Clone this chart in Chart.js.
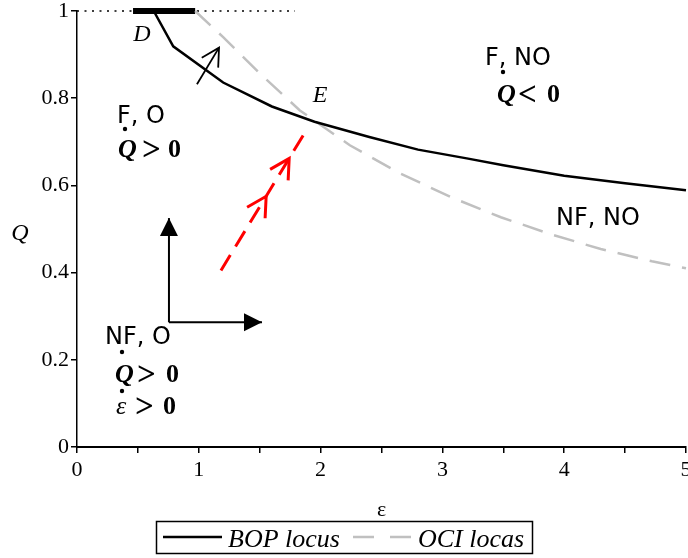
<!DOCTYPE html>
<html>
<head>
<meta charset="utf-8">
<script src="https://cdn.jsdelivr.net/npm/chart.js@4.4.1/dist/chart.umd.min.js"></script>
<style>
  html, body { margin: 0; padding: 0; background: #fff; }
</style>
</head>
<body>
<canvas id="chart" width="688" height="558"></canvas>
<script>
// ------------------ Data ------------------

// BOP locus (solid black)
const bopEps = [0.63, 0.79, 1.2, 1.6, 1.95, 2.4, 2.8, 3.2, 3.5, 4.0, 4.5, 5.0];
const bopQ   = [1.0, 0.919, 0.836, 0.781, 0.746, 0.711, 0.682, 0.662, 0.646, 0.622, 0.605, 0.589];

// OCI locus (grey dashed)
const ociEps = [0.97, 1.2, 1.5, 1.83, 2.24, 2.65, 3.07, 3.48, 3.89, 4.3, 4.72, 5.0];
const ociQ   = [1.0, 0.94, 0.857, 0.772, 0.692, 0.628, 0.573, 0.527, 0.488, 0.454, 0.426, 0.41];

// segment D on Q = 1, and the dotted Q = 1 guide
const segD   = [[0.46, 1], [0.97, 1]];
const guide1 = [[0, 1], [1.79, 1]];

// red dashed path towards E, with its two open arrow tips (on the path)
const redPath = [[1.182, 0.405], [1.888, 0.729]];
const redTips = [[1.553, 0.575], [1.742, 0.662]];

// small black arrow, and the two axes-like arrows
const smallArrow = [[0.985, 0.832], [1.166, 0.916]];
const upArrow    = [[0.755, 0.286], [0.755, 0.525]];
const rightArrow = [[0.755, 0.286], [1.519, 0.286]];

const xTicks = [0, 1, 2, 3, 4, 5];
const yTicks = [0, 0.2, 0.4, 0.6, 0.8, 1];

const pts = (xs, ys) => xs.map((x, i) => ({ x, y: ys[i] }));
const pairs = arr => arr.map(([x, y]) => ({ x, y }));

// ------------------ Drawing helpers ------------------

function openHead(ctx, tx, ty, fx, fy, len, ang) {
  const a = Math.atan2(ty - fy, tx - fx);
  ctx.beginPath();
  ctx.moveTo(tx - len * Math.cos(a - ang), ty - len * Math.sin(a - ang));
  ctx.lineTo(tx, ty);
  ctx.lineTo(tx - len * Math.cos(a + ang), ty - len * Math.sin(a + ang));
  ctx.stroke();
}

function filledHead(ctx, tx, ty, fx, fy, len, half) {
  const a = Math.atan2(ty - fy, tx - fx);
  const bx = tx - len * Math.cos(a), by = ty - len * Math.sin(a);
  ctx.beginPath();
  ctx.moveTo(tx, ty);
  ctx.lineTo(bx + half * Math.sin(a), by - half * Math.cos(a));
  ctx.lineTo(bx - half * Math.sin(a), by + half * Math.cos(a));
  ctx.closePath();
  ctx.fill();
}

function txt(ctx, s, x, y, font, align = 'left', base = 'alphabetic') {
  ctx.font = font;
  ctx.textAlign = align;
  ctx.textBaseline = base;
  ctx.fillText(s, x, y);
}

function dot(ctx, x, y) {
  ctx.beginPath();
  ctx.arc(x, y, 2.2, 0, Math.PI * 2);
  ctx.fill();
}

const SANS = '"DejaVu Sans", sans-serif';
const SERIF = '"Liberation Serif", "Times New Roman", serif';
const MATH = 'bold 26px ' + SERIF;
const MATHQ = 'italic bold 26px ' + SERIF;
const REL = 'bold 33px ' + SERIF;

const extras = {
  id: 'extras',
  afterDatasetsDraw(chart) {
    const ctx = chart.ctx;
    const xs = chart.scales.x, ys = chart.scales.y;
    const P = ([x, y]) => [xs.getPixelForValue(x), ys.getPixelForValue(y)];
    ctx.save();

    // red open arrow tips
    ctx.strokeStyle = '#ff0000';
    ctx.lineWidth = 3;
    const [rx0, ry0] = P(redPath[0]);
    redTips.forEach(t => {
      const [tx, ty] = P(t);
      openHead(ctx, tx, ty, rx0, ry0, 22, 0.5);
    });

    // small black arrow tip
    ctx.strokeStyle = '#000';
    ctx.lineWidth = 1.8;
    const [sx0, sy0] = P(smallArrow[0]);
    const [sx1, sy1] = P(smallArrow[1]);
    openHead(ctx, sx1, sy1, sx0, sy0, 20, 0.5);

    // filled heads
    ctx.fillStyle = '#000';
    let [ax, ay] = P(upArrow[0]);
    let [bx, by] = P(upArrow[1]);
    filledHead(ctx, bx, by, ax, ay, 18, 9);
    [ax, ay] = P(rightArrow[0]);
    [bx, by] = P(rightArrow[1]);
    filledHead(ctx, bx, by, ax, ay, 18, 9);

    // point labels
    ctx.fillStyle = '#000';
    txt(ctx, 'D', 142, 35, 'italic 24px ' + SERIF, 'center', 'middle');
    txt(ctx, 'E', 320, 96, 'italic 24px ' + SERIF, 'center', 'middle');

    // region labels
    const reg = '24px ' + SANS;
    txt(ctx, 'F, O', 117, 123, reg);
    dot(ctx, 125, 129);
    txt(ctx, 'Q', 118, 157, MATHQ);
    txt(ctx, '>', 142, 160, REL);
    txt(ctx, '0', 168, 157, MATH);

    txt(ctx, 'F, NO', 485, 65, reg);
    dot(ctx, 503, 72);
    txt(ctx, 'Q', 497, 102, MATHQ);
    txt(ctx, '<', 518, 105, REL);
    txt(ctx, '0', 547, 102, MATH);

    txt(ctx, 'NF, NO', 556, 225, reg);

    txt(ctx, 'NF, O', 105, 344, reg);
    dot(ctx, 122, 352);
    txt(ctx, 'Q', 115, 382, MATHQ);
    txt(ctx, '>', 137, 385, REL);
    txt(ctx, '0', 166, 382, MATH);
    dot(ctx, 122, 391);
    txt(ctx, 'ε', 116, 414, 'italic 26px ' + SERIF);
    txt(ctx, '>', 135, 417, REL);
    txt(ctx, '0', 163, 414, MATH);

    // axis titles
    txt(ctx, 'Q', 20, 234, 'italic 24px ' + SERIF, 'center', 'middle');
    txt(ctx, 'ε', (xs.left + xs.right) / 2, 510, '22px ' + SERIF, 'center', 'middle');

    // legend
    ctx.strokeStyle = '#000';
    ctx.lineWidth = 1.5;
    ctx.strokeRect(156.5, 521.5, 376, 32);
    ctx.lineWidth = 2.5;
    ctx.beginPath(); ctx.moveTo(163, 537); ctx.lineTo(222, 537); ctx.stroke();
    txt(ctx, 'BOP locus', 228, 547, 'italic 26px ' + SERIF);
    ctx.strokeStyle = '#c0c0c0';
    ctx.setLineDash([21, 16]);
    ctx.beginPath(); ctx.moveTo(353, 537); ctx.lineTo(413, 537); ctx.stroke();
    ctx.setLineDash([]);
    txt(ctx, 'OCI locas', 418, 547, 'italic 26px ' + SERIF);

    ctx.restore();
  }
};

// ------------------ Chart ------------------

const ctx = document.getElementById('chart').getContext('2d');
new Chart(ctx, {
  type: 'line',
  data: {
    datasets: [
      { label: 'BOP locus', data: pts(bopEps, bopQ), borderColor: '#000', borderWidth: 2.5 },
      { label: 'OCI locas', data: pts(ociEps, ociQ), borderColor: '#c0c0c0', borderWidth: 2.5, borderDash: [21, 12] },
      { label: 'D', data: pairs(segD), borderColor: '#000', borderWidth: 6 },
      { label: 'Q=1', data: pairs(guide1), borderColor: '#000', borderWidth: 1.5, borderDash: [2, 5.5] },
      { label: 'path', data: pairs(redPath), borderColor: '#ff0000', borderWidth: 3, borderDash: [18, 10] },
      { label: 'arrow', data: pairs(smallArrow), borderColor: '#000', borderWidth: 1.8 },
      { label: 'up', data: pairs(upArrow), borderColor: '#000', borderWidth: 2 },
      { label: 'right', data: pairs(rightArrow), borderColor: '#000', borderWidth: 2 }
    ]
  },
  options: {
    responsive: false,
    animation: false,
    clip: false,
    elements: { point: { radius: 0 }, line: { tension: 0, fill: false } },
    layout: { padding: { left: 0, right: 2, top: 11, bottom: 0 } },
    plugins: { legend: { display: false }, tooltip: { enabled: false } },
    scales: {
      x: {
        type: 'linear', min: 0, max: 5,
        afterFit: s => { s.height = 111; s.paddingLeft = 0; s.paddingRight = 0; },
        border: { color: '#000', width: 2 },
        grid: { drawOnChartArea: false, color: '#000', lineWidth: 1.5, tickLength: 6 },
        ticks: {
          stepSize: 0.5, autoSkip: false, maxRotation: 0, padding: 4, color: '#000',
          font: { family: SERIF, size: 22 },
          callback: v => xTicks.includes(v) ? String(v) : ''
        }
      },
      y: {
        type: 'linear', min: 0, max: 1,
        afterFit: s => { s.width = 77; s.paddingTop = 0; s.paddingBottom = 0; },
        border: { color: '#000', width: 1.5 },
        grid: { drawOnChartArea: false, color: '#000', lineWidth: 1.5, tickLength: 6 },
        afterBuildTicks: s => { s.ticks = yTicks.map(v => ({ value: v })); },
        ticks: {
          padding: 2, color: '#000',
          font: { family: SERIF, size: 22 },
          callback: v => String(Math.round(v * 10) / 10)
        }
      }
    }
  },
  plugins: [extras]
});
</script>
</body>
</html>
